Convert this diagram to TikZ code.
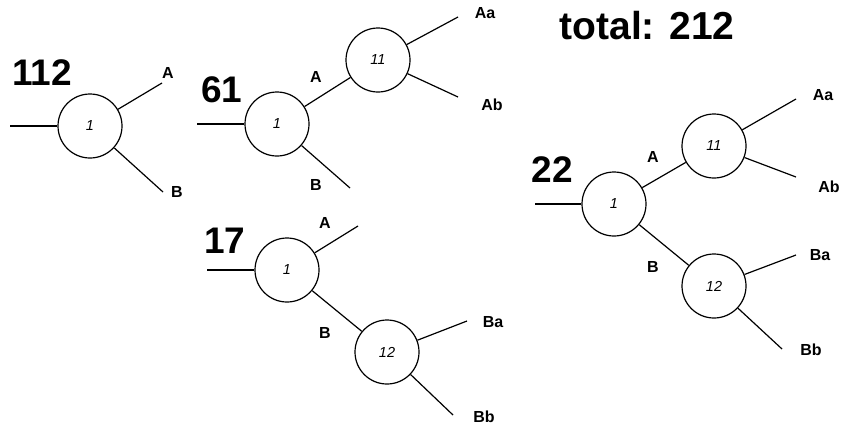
\documentclass[tikz,border=0pt]{standalone}
\usepackage{fontspec}
\setmainfont{Liberation Sans}
\begin{document}
\begin{tikzpicture}[x=1pt,y=-1pt,line width=1.2pt,
  state/.style={circle,draw,minimum size=64pt,inner sep=0pt,font=\fontsize{14.5}{14.5}\selectfont\itshape},
  lbl/.style={font=\bfseries\fontsize{16}{16}\selectfont,inner sep=0pt},
  count/.style={font=\bfseries\fontsize{37}{37}\selectfont,inner sep=0pt}]
\useasboundingbox (0,0) rectangle (842,426);
% tree 1
\node[state] (a1) at (90,126) {1};
\coordinate (a0) at (10,126);
\coordinate (aA) at (162,83);
\coordinate (aB) at (163,192);
\draw (a0) -- (a1);
\draw (a1) -- (aA);
\draw (a1) -- (aB);
\node[lbl] (aAl) at (168,73) {A};
\node[lbl] (aBl) at (177,192) {B};
\node[count] (an) at (42,73) {112};
% tree 2
\node[state] (b1) at (277,124) {1};
\node[state] (b11) at (378,60) {11};
\coordinate (b0) at (197,124);
\coordinate (bAa) at (458,17);
\coordinate (bAb) at (458,97);
\coordinate (bB) at (350,188);
\draw (b0) -- (b1);
\draw (b1) -- (b11);
\draw (b1) -- (bB);
\draw (b11) -- (bAa);
\draw (b11) -- (bAb);
\node[lbl] (bAl) at (316,77) {A};
\node[lbl] (bBl) at (316,185) {B};
\node[lbl] (bAal) at (485,13) {Aa};
\node[lbl] (bAbl) at (492,105) {Ab};
\node[count] (bn) at (222,90) {61};
% tree 3
\node[state] (c1) at (287,270) {1};
\node[state] (c12) at (387,352) {12};
\coordinate (c0) at (207,270);
\coordinate (cA) at (358,226);
\coordinate (cBa) at (467,321);
\coordinate (cBb) at (453,415);
\draw (c0) -- (c1);
\draw (c1) -- (cA);
\draw (c1) -- (c12);
\draw (c12) -- (cBa);
\draw (c12) -- (cBb);
\node[lbl] (cAl) at (325,223) {A};
\node[lbl] (cBl) at (325,333) {B};
\node[lbl] (cBal) at (493,322) {Ba};
\node[lbl] (cBbl) at (484,417) {Bb};
\node[count] (cn) at (225,241) {17};
% tree 4
\node[state] (d1) at (614,204) {1};
\node[state] (d11) at (714,146) {11};
\node[state] (d12) at (714,286) {12};
\coordinate (d0) at (535,204);
\coordinate (dAa) at (796,99);
\coordinate (dAb) at (796,177);
\coordinate (dBa) at (796,255);
\coordinate (dBb) at (782,349);
\draw (d0) -- (d1);
\draw (d1) -- (d11);
\draw (d1) -- (d12);
\draw (d11) -- (dAa);
\draw (d11) -- (dAb);
\draw (d12) -- (dBa);
\draw (d12) -- (dBb);
\node[lbl] (dAl) at (653,157) {A};
\node[lbl] (dBl) at (653,267) {B};
\node[lbl] (dAal) at (823,95) {Aa};
\node[lbl] (dAbl) at (829,187) {Ab};
\node[lbl] (dBal) at (820,255) {Ba};
\node[lbl] (dBbl) at (811,350) {Bb};
\node[count] (dn) at (552,170) {22};
\node[count,font=\bfseries\fontsize{39}{39}\selectfont] (total) at (647,26) {total: 212};
\end{tikzpicture}
\end{document}
